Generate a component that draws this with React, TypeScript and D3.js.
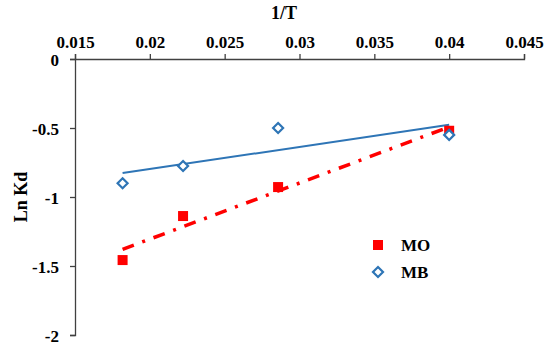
import React, { useEffect, useRef } from "react";
import * as d3 from "d3";

// 1/T values (T = 55, 45, 35, 25)
const invT = [0.01818, 0.02222, 0.02857, 0.04];
const moValues = [-1.457, -1.138, -0.928, -0.52];
const mbValues = [-0.9, -0.775, -0.5, -0.55];
const xTicks = [0.015, 0.02, 0.025, 0.03, 0.035, 0.04, 0.045];
const yTicks = [0, -0.5, -1, -1.5, -2];

const WIDTH = 550;
const HEIGHT = 346;
const FONT = "'Liberation Serif', 'Times New Roman', serif";

// least squares fit, like the spreadsheet trendline
const linearFit = (xs: number[], ys: number[]) => {
  const mx = d3.mean(xs) as number;
  const my = d3.mean(ys) as number;
  const sxy = d3.sum(xs, (x, i) => (x - mx) * (ys[i] - my));
  const sxx = d3.sum(xs, (x) => (x - mx) * (x - mx));
  const slope = sxy / sxx;
  return (x: number) => my + slope * (x - mx);
};

const drawChart = (svgElement: SVGSVGElement): void => {
  d3.select(svgElement).selectAll("*").remove();
  const svg = d3.select(svgElement);

  const x = d3.scaleLinear().domain([0.015, 0.045]).range([75, 524]);
  const y = d3.scaleLinear().domain([0, -2]).range([59, 335]);

  // X axis on top
  const xAxis = svg
    .append("g")
    .attr("transform", `translate(0, ${y(0)})`)
    .call(
      d3
        .axisTop(x)
        .tickValues(xTicks)
        .tickSize(5)
        .tickPadding(6)
        .tickFormat((d) => String(d))
    );

  const yAxis = svg
    .append("g")
    .attr("transform", `translate(${x(0.015)}, 0)`)
    .call(
      d3
        .axisLeft(y)
        .tickValues(yTicks)
        .tickSize(5)
        .tickPadding(11)
        .tickFormat((d) => String(d))
    );

  [xAxis, yAxis].forEach((ax) => {
    ax.select(".domain").attr("stroke", "#404040").attr("stroke-width", 1.3);
    ax.selectAll(".tick line").attr("stroke", "#404040").attr("stroke-width", 1.3);
    ax.selectAll(".tick text")
      .attr("fill", "#000")
      .style("font-family", FONT)
      .style("font-weight", "bold")
      .style("font-size", "17px");
  });
  yAxis.selectAll(".tick text").attr("dy", "0.36em");

  // Axis titles
  svg
    .append("text")
    .attr("x", 284)
    .attr("y", 19)
    .attr("text-anchor", "middle")
    .style("font-family", FONT)
    .style("font-weight", "bold")
    .style("font-size", "18px")
    .text("1/T");

  svg
    .append("text")
    .attr("transform", `translate(27, 197) rotate(-90)`)
    .attr("text-anchor", "middle")
    .style("font-family", FONT)
    .style("font-weight", "bold")
    .style("font-size", "18px")
    .text("Ln Kd");

  // Trendlines
  const xMin = d3.min(invT) as number;
  const xMax = d3.max(invT) as number;
  const moFit = linearFit(invT, moValues);
  const mbFit = linearFit(invT, mbValues);

  svg
    .append("line")
    .attr("x1", x(xMin))
    .attr("y1", y(mbFit(xMin)))
    .attr("x2", x(xMax))
    .attr("y2", y(mbFit(xMax)))
    .attr("stroke", "#2E75B6")
    .attr("stroke-width", 2);

  svg
    .append("line")
    .attr("x1", x(xMin))
    .attr("y1", y(moFit(xMin)))
    .attr("x2", x(xMax))
    .attr("y2", y(moFit(xMax)))
    .attr("stroke", "#FF0000")
    .attr("stroke-width", 3.5)
    .attr("stroke-dasharray", "12 9 3 9");

  // MO markers
  svg
    .append("g")
    .selectAll("rect")
    .data(invT)
    .enter()
    .append("rect")
    .attr("x", (d) => x(d) - 5)
    .attr("y", (d, i) => y(moValues[i]) - 5)
    .attr("width", 10)
    .attr("height", 10)
    .attr("fill", "#FF0000");

  // MB markers
  const diamond = d3.symbol().type(d3.symbolDiamond2).size(64);
  svg
    .append("g")
    .selectAll("path")
    .data(invT)
    .enter()
    .append("path")
    .attr("d", diamond)
    .attr("transform", (d, i) => `translate(${x(d)}, ${y(mbValues[i])})`)
    .attr("fill", "#fff")
    .attr("stroke", "#2E75B6")
    .attr("stroke-width", 2.2);

  // Legend
  const legend = svg.append("g");
  legend
    .append("rect")
    .attr("x", 373)
    .attr("y", 240)
    .attr("width", 10)
    .attr("height", 10)
    .attr("fill", "#FF0000");
  legend
    .append("path")
    .attr("d", diamond)
    .attr("transform", "translate(378, 272)")
    .attr("fill", "#fff")
    .attr("stroke", "#2E75B6")
    .attr("stroke-width", 2.2);
  [
    { label: "MO", cy: 245 },
    { label: "MB", cy: 272 },
  ].forEach((item) => {
    legend
      .append("text")
      .attr("x", 401)
      .attr("y", item.cy)
      .attr("dy", "0.36em")
      .style("font-family", FONT)
      .style("font-weight", "bold")
      .style("font-size", "17px")
      .text(item.label);
  });
};

const App: React.FC = () => {
  const svgRef = useRef<SVGSVGElement>(null);

  useEffect(() => {
    if (svgRef.current) {
      drawChart(svgRef.current);
    }
  }, []);

  return (
    <svg
      ref={svgRef}
      width={WIDTH}
      height={HEIGHT}
      style={{ position: "absolute", left: 0, top: 0, background: "#fff" }}
    />
  );
};

export default App;
